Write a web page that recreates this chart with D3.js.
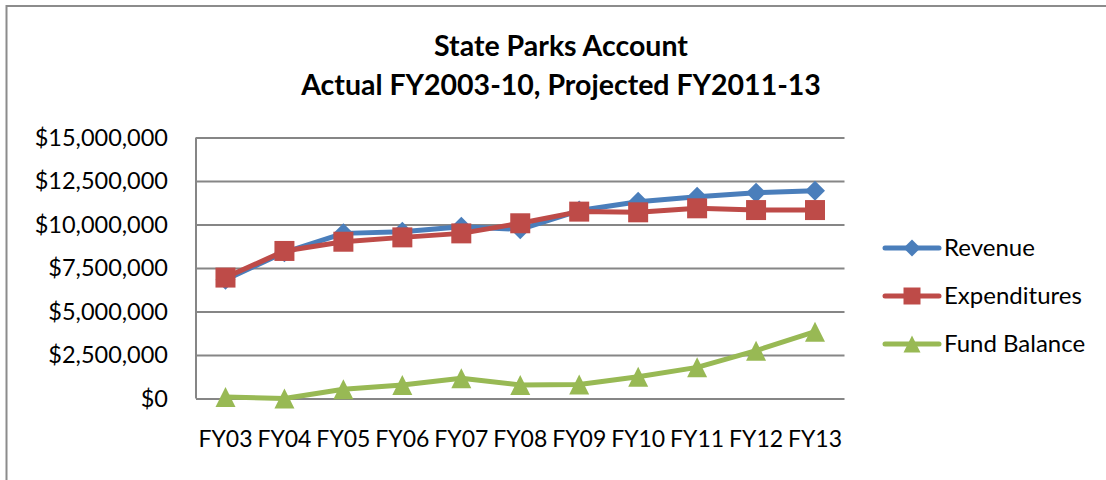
<!DOCTYPE html>
<html>
<head>
<meta charset="utf-8">
<script src="https://cdn.jsdelivr.net/npm/d3@7"></script>
<style>
  body { margin: 0; background: #fff; }
  svg { display: block; font-family: Lato, "Open Sans", sans-serif; }
</style>
</head>
<body>
<svg width="1106" height="480"></svg>
<script>
//	data
var years = ["FY03", "FY04", "FY05", "FY06", "FY07", "FY08", "FY09", "FY10", "FY11", "FY12", "FY13"];
var revenue = [6820000, 8400000, 9490000, 9590000, 9870000, 9720000, 10800000, 11310000, 11600000, 11830000, 11940000];
var expenditures = [6950000, 8480000, 9010000, 9260000, 9490000, 10070000, 10740000, 10700000, 10930000, 10830000, 10830000];
var fundBalance = [80000, 0, 530000, 780000, 1160000, 780000, 800000, 1250000, 1790000, 2750000, 3840000];
var yTicks = [0, 2500000, 5000000, 7500000, 10000000, 12500000, 15000000];

var series = [
    {name: "Revenue", values: revenue, color: "#4a7ebb", shape: "diamond"},
    {name: "Expenditures", values: expenditures, color: "#be4b48", shape: "square"},
    {name: "Fund Balance", values: fundBalance, color: "#98b954", shape: "triangle"}
];

//	svg and sizing
var svg = d3.select("svg"),
        margin = {left: 196, right: 261.5, top: 137.5, bottom: 81.5},
        width = +svg.attr("width"),
        height = +svg.attr("height");

//	chart frame
svg.append("path")
        .attr("d", "M6.5,490V6H1106")
        .attr("fill", "none")
        .attr("stroke", "#8c8c8c")
        .attr("stroke-width", 2);

var x = d3.scaleBand()
        .domain(years)
        .range([margin.left, width - margin.right]);
var y = d3.scaleLinear()
        .domain([0, 15000000])
        .range([height - margin.bottom, margin.top]);

var fmt = function (v) { return "$" + d3.format(",")(v); };

//	title
var title = svg.append("text")
        .attr("text-anchor", "middle")
        .attr("font-weight", "bold")
        .attr("font-size", 28.5)
        .attr("fill", "#000");
title.append("tspan").attr("x", 561).attr("y", 56).text("State Parks Account");
title.append("tspan").attr("x", 561).attr("y", 95).text("Actual FY2003-10, Projected FY2011-13");

//	gridlines
svg.append("g")
        .attr("transform", "translate(" + margin.left + ",0)")
        .call(d3.axisLeft(y).tickValues(yTicks).tickSize(-(width - margin.left - margin.right)).tickFormat(fmt))
        .call(function (g) {
            g.select(".domain").remove();
            g.selectAll(".tick line").attr("stroke", "#868686").attr("stroke-width", 2);
            g.selectAll(".tick text")
                    .attr("x", -28)
                    .attr("font-size", 23.5)
                    .attr("font-family", "Lato, sans-serif")
                    .attr("fill", "#000");
        });

//	left axis line
svg.append("line")
        .attr("x1", margin.left).attr("x2", margin.left)
        .attr("y1", margin.top).attr("y2", height - margin.bottom)
        .attr("stroke", "#868686").attr("stroke-width", 2);

//	x labels
svg.append("g")
        .attr("transform", "translate(0," + (height - margin.bottom) + ")")
        .call(d3.axisBottom(x).tickSize(0).tickPadding(0))
        .call(function (g) {
            g.select(".domain").remove();
            g.selectAll(".tick text")
                    .attr("dy", null)
                    .attr("y", 48)
                    .attr("font-size", 23)
                    .attr("font-family", "Lato, sans-serif")
                    .attr("fill", "#000");
        });

function markerPath(shape, s) {
    var h = s / 2;
    if (shape === "diamond") {
        return "M0," + (-h) + "L" + h + ",0L0," + h + "L" + (-h) + ",0Z";
    } else if (shape === "square") {
        return "M" + (-h) + "," + (-h) + "H" + h + "V" + h + "H" + (-h) + "Z";
    }
    return "M0," + (-h) + "L" + h + "," + h + "H" + (-h) + "Z";
}

var line = d3.line()
        .x(function (d, i) { return x(years[i]) + x.bandwidth() / 2; })
        .y(function (d) { return y(d); });

var sizes = {diamond: 20, square: 20, triangle: 20};

series.forEach(function (s) {
    var g = svg.append("g");
    g.append("path")
            .attr("d", line(s.values))
            .attr("fill", "none")
            .attr("stroke", s.color)
            .attr("stroke-width", 5)
            .attr("stroke-linejoin", "round");
    g.selectAll("path.mk")
            .data(s.values)
            .enter().append("path")
            .attr("class", "mk")
            .attr("d", markerPath(s.shape, sizes[s.shape]))
            .attr("transform", function (d, i) {
                return "translate(" + (x(years[i]) + x.bandwidth() / 2) + "," + y(d) + ")";
            })
            .attr("fill", s.color);
});

//	legend
var legend = svg.append("g")
        .selectAll("g")
        .data(series)
        .enter().append("g")
        .attr("transform", function (d, i) { return "translate(885," + (248 + i * 48) + ")"; });
legend.append("line")
        .attr("x1", 0).attr("x2", 54)
        .attr("stroke", function (d) { return d.color; })
        .attr("stroke-width", 5)
        .attr("stroke-linecap", "round");
legend.append("path")
        .attr("d", function (d) { return markerPath(d.shape, 17); })
        .attr("transform", "translate(27,0)")
        .attr("fill", function (d) { return d.color; });
legend.append("text")
        .attr("x", 59)
        .attr("dy", "0.35em")
        .attr("font-size", 24)
        .attr("fill", "#000")
        .text(function (d) { return d.name; });
</script>
</body>
</html>
